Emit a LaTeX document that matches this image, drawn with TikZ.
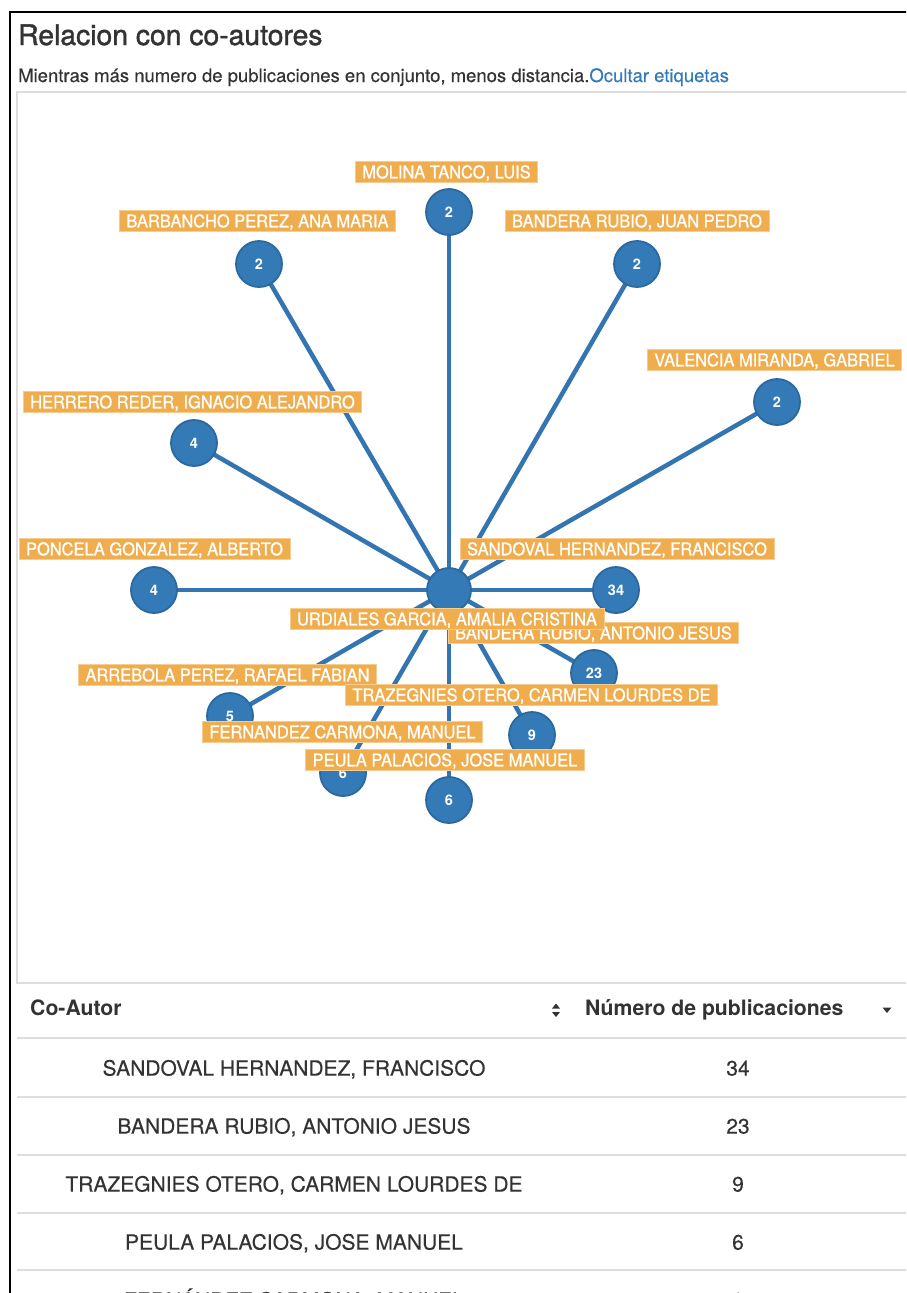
\documentclass[tikz,border=0pt]{standalone}
\usepackage{fontspec}
\setmainfont{TeX Gyre Heros}
\newfontfamily\medfont[FakeBold=1.4]{TeX Gyre Heros}
\newfontfamily\lblfont[FakeBold=1.0,FakeStretch=0.94]{TeX Gyre Heros}
\newfontfamily\cellfont[FakeBold=0.3]{TeX Gyre Heros}
\usetikzlibrary{backgrounds}
\definecolor{bsblue}{HTML}{337AB7}
\definecolor{rimblue}{HTML}{2B68A0}
\definecolor{edgeblue}{HTML}{3474B0}
\definecolor{bsorange}{HTML}{F0AD4E}
\definecolor{lightorange}{HTML}{F6CC90}
\definecolor{txt}{HTML}{333333}
\definecolor{rule}{HTML}{DDDDDD}
\tikzset{
  conode/.style={circle, fill=bsblue, draw=rimblue, line width=1.8pt, minimum size=46pt, inner sep=0pt,
    text=white, font=\fontsize{14.5}{15}\selectfont\bfseries},
  centernode/.style={conode, minimum size=44pt},
  lbl/.style={rectangle, fill=bsorange, draw=lightorange, line width=0.8pt, text=white,
    font=\fontsize{17.5}{18}\lblfont, inner xsep=7pt, inner ysep=0pt, minimum height=21pt,
    text height=12.6pt, text depth=0pt},
  edge/.style={draw=edgeblue, line width=4.5pt},
  cell/.style={text=txt, font=\fontsize{21}{22}\cellfont, inner sep=0pt, text height=15.2pt, text depth=0pt},
  head/.style={cell, font=\fontsize{21.2}{22}\selectfont\bfseries},
  rowline/.style={draw=rule, line width=1.5pt},
  frame/.style={draw=black, line width=2pt},
  boxline/.style={draw=rule, line width=1.5pt}
}
\begin{document}
\begin{tikzpicture}[x=1pt, y=-1pt]
\useasboundingbox (0,0) rectangle (906,1293);
\begin{scope}
\clip (0,0) rectangle (906,1293);
% outer frame
\draw[frame] (10,1300) -- (10,12) -- (910,12);
% title and subtitle
\node[anchor=base west, inner sep=0pt, text=txt, font=\fontsize{28.3}{30}\medfont] (title) at (18,45) {Relacion con co-autores};
\node[anchor=base west, inner sep=0pt, text=txt, font=\fontsize{18.5}{20}\cellfont] (sub) at (18,82) {Mientras más numero de publicaciones en conjunto, menos distancia.\textcolor{bsblue}{Ocultar etiquetas}};
% graph box
\draw[boxline] (910,92) -- (17,92) -- (17,983) -- (910,983);

% nodes
\node[centernode] (c) at (449,590) {};
\node[conode] (molina) at (449,212) {2};
\node[conode] (barbancho) at (259,264) {2};
\node[conode] (banderajp) at (637,264) {2};
\node[conode] (valencia) at (777,402) {2};
\node[conode] (herrero) at (194,443) {4};
\node[conode] (poncela) at (154,590) {4};
\node[conode] (sandoval) at (616,590) {34};
\node[conode] (banderaaj) at (594,673) {23};
\node[conode] (arrebola) at (230,716) {5};
\node[conode] (trazegnies) at (532,735) {9};
\node[conode] (fernandez) at (343,773) {6};
\node[conode] (peula) at (449,800) {6};

\begin{scope}[on background layer]
\foreach \n in {molina,barbancho,banderajp,valencia,herrero,poncela,sandoval,banderaaj,arrebola,trazegnies,fernandez,peula}
  \draw[edge] (c.center) -- (\n.center);
\end{scope}

% labels
\node[lbl] (l-molina) at (446.5,172) {MOLINA TANCO, LUIS};
\node[lbl] (l-barbancho) at (257.5,221) {BARBANCHO PEREZ, ANA MARIA};
\node[lbl] (l-banderajp) at (637,221) {BANDERA RUBIO, JUAN PEDRO};
\node[lbl] (l-valencia) at (774.5,360) {VALENCIA MIRANDA, GABRIEL};
\node[lbl] (l-herrero) at (192.5,402) {HERRERO REDER, IGNACIO ALEJANDRO};
\node[lbl] (l-poncela) at (154.5,549) {PONCELA GONZALEZ, ALBERTO};
\node[lbl] (l-sandoval) at (617,549) {SANDOVAL HERNANDEZ, FRANCISCO};
\node[lbl] (l-banderaaj) at (593.5,633) {BANDERA RUBIO, ANTONIO JESUS};
\node[lbl] (l-c) at (447,619) {URDIALES GARCIA, AMALIA CRISTINA};
\node[lbl] (l-arrebola) at (227.5,675) {ARREBOLA PEREZ, RAFAEL FABIAN};
\node[lbl] (l-trazegnies) at (531.5,695) {TRAZEGNIES OTERO, CARMEN LOURDES DE};
\node[lbl] (l-fernandez) at (342.5,732) {FERNANDEZ CARMONA, MANUEL};
\node[lbl] (l-peula) at (445,760) {PEULA PALACIOS, JOSE MANUEL};

% table header
\node[head, anchor=west] (h1) at (30,1008) {Co-Autor};
\node[head, anchor=west] (h2) at (585,1008) {Número de publicaciones};
\fill[txt] (552,1008.5) -- (560,1008.5) -- (556,1003.5) -- cycle;
\fill[txt] (552,1012) -- (560,1012) -- (556,1017) -- cycle;
\fill[txt] (882.5,1007.5) -- (891.5,1007.5) -- (887,1013) -- cycle;
\draw[rule, line width=2.5pt] (17,1038) -- (910,1038);

% table rows
\node[cell] (r1n) at (294,1068) {SANDOVAL HERNANDEZ, FRANCISCO};
\node[cell] (r1v) at (738,1068) {34};
\draw[rowline] (17,1097) -- (910,1097);
\node[cell] (r2n) at (294,1126) {BANDERA RUBIO, ANTONIO JESUS};
\node[cell] (r2v) at (738,1126) {23};
\draw[rowline] (17,1155) -- (910,1155);
\node[cell] (r3n) at (294,1184) {TRAZEGNIES OTERO, CARMEN LOURDES DE};
\node[cell] (r3v) at (738,1184) {9};
\draw[rowline] (17,1213) -- (910,1213);
\node[cell] (r4n) at (294,1242) {PEULA PALACIOS, JOSE MANUEL};
\node[cell] (r4v) at (738,1242) {6};
\draw[rowline] (17,1270) -- (910,1270);
\node[cell] (r5n) at (294,1300) {FERNÁNDEZ CARMONA, MANUEL};
\node[cell] (r5v) at (738,1300) {6};
\end{scope}
\end{tikzpicture}
\end{document}
